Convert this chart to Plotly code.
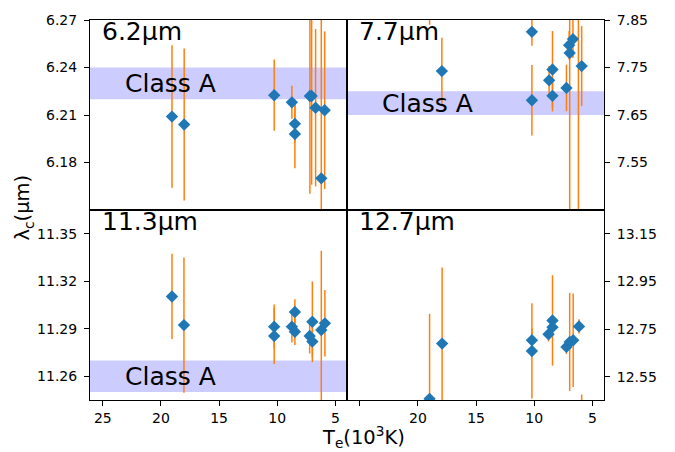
import plotly.graph_objects as go

# ---- data ----
t62 = [19.05, 18.0, 10.26, 8.74, 8.48, 8.48, 7.19, 7.04, 6.70, 6.21, 5.92]
v62 = [6.209, 6.204, 6.2225, 6.218, 6.2044, 6.198, 6.222, 6.222, 6.2146, 6.170, 6.213]
e62 = [0.045, 0.048, 0.0225, 0.0104, 0.012, 0.0217, 0.0617, 0.056, 0.0497, 0.11, 0.0498]

t77 = [19.0, 17.94, 10.2, 10.2, 8.72, 8.43, 8.43, 7.23, 7.0, 6.95, 6.67, 6.2, 5.92]
v77 = [7.95, 7.7425, 7.825, 7.681, 7.723, 7.7458, 7.6904, 7.707, 7.797, 7.7806, 7.8098, 7.40, 7.753]
e77 = [0.11, 0.07, 0.029, 0.074, 0.03, 0.081, 0.033, 0.049, 0.03, 0.36, 0.04, 0.5, 0.084]

t113 = [19.05, 18.02, 10.26, 10.26, 8.74, 8.48, 8.48, 7.21, 6.98, 6.98, 6.21, 5.90]
v113 = [11.3104, 11.2923, 11.2913, 11.2854, 11.2913, 11.3006, 11.2881, 11.2854, 11.2944, 11.2819, 11.2892, 11.2934]
e113 = [0.0269, 0.0427, 0.014, 0.0176, 0.01, 0.008, 0.0083, 0.011, 0.0255, 0.01, 0.05, 0.021]

t127 = [19.0, 17.92, 10.2, 10.2, 8.77, 8.43, 8.43, 7.23, 6.95, 6.65, 6.15, 5.92]
v127 = [12.457, 12.689, 12.703, 12.658, 12.728, 12.786, 12.758, 12.675, 12.696, 12.703, 12.761, 12.30]
e127 = [0.357, 0.319, 0.05, 0.2, 0.03, 0.19, 0.03, 0.03, 0.206, 0.196, 0.03, 0.175]

panel_names = ["6.2µm", "7.7µm", "11.3µm", "12.7µm"]
yticks62 = [6.18, 6.21, 6.24, 6.27]
yticks77 = [7.55, 7.65, 7.75, 7.85]
yticks113 = [11.26, 11.29, 11.32, 11.35]
yticks127 = [12.55, 12.75, 12.95, 13.15]
xticks = [25, 20, 15, 10, 5]

band62 = [6.22, 6.24]
band77 = [7.65, 7.70]
band113 = [11.25, 11.27]
band_label = "Class A"

# ---- figure ----
W, H = 675, 452
ML, MR, MT, MB = 90, 71, 17, 52
PW, PH = W - ML - MR, H - MT - MB

def px(xp):
    return (xp - ML) / PW

def py(yp):
    return (H - MB - yp) / PH

FONT = "DejaVu Sans"
BLUE = "#1f77b4"
ORANGE = "#ff7f0e"

fig = go.Figure()

panels = [
    (t62, v62, e62, "x", "y"),
    (t77, v77, e77, "x2", "y2"),
    (t113, v113, e113, "x3", "y3"),
    (t127, v127, e127, "x4", "y4"),
]
for t, v, e, xa, ya in panels:
    fig.add_trace(go.Scatter(
        x=t, y=v, mode="markers", xaxis=xa, yaxis=ya,
        marker=dict(symbol="diamond", size=9.5, color=BLUE, line=dict(width=0)),
        error_y=dict(type="data", array=e, visible=True, color=ORANGE,
                     thickness=1.5, width=0),
        showlegend=False, hoverinfo="skip",
    ))

xr = [26.1, 4.0]
common_x = dict(range=xr, showline=True, linecolor="black", linewidth=1,
                mirror=True, showgrid=False, zeroline=False,
                tickfont=dict(family=FONT, size=14, color="black"))
common_y = dict(showline=True, linecolor="black", linewidth=1, mirror=True,
                showgrid=False, zeroline=False, ticks="outside", ticklen=5,
                tickwidth=1, tickcolor="black", ticklabelstandoff=4,
                tickfont=dict(family=FONT, size=14, color="black"))

def fmt(vals):
    return ["%.2f" % v for v in vals]

fig.update_layout(
    width=W, height=H,
    margin=dict(l=ML, r=MR, t=MT, b=MB, pad=0),
    plot_bgcolor="white", paper_bgcolor="white",
    font=dict(family=FONT, color="black"),
    xaxis=dict(domain=[0, 0.5], anchor="y", showticklabels=False, ticks="", **common_x),
    xaxis2=dict(domain=[0.5, 1], anchor="y2", showticklabels=False, ticks="", **common_x),
    xaxis3=dict(domain=[0, 0.5], anchor="y3", ticks="outside", ticklen=5, tickwidth=1,
                tickcolor="black", tickvals=xticks, ticktext=[str(v) for v in xticks],
                **common_x),
    xaxis4=dict(domain=[0.5, 1], anchor="y4", ticks="outside", ticklen=5, tickwidth=1,
                tickcolor="black", tickvals=xticks,
                ticktext=[""] + [str(v) for v in xticks[1:]], **common_x),
    yaxis=dict(domain=[0.5, 1], anchor="x", range=[6.15, 6.27], side="left",
               tickvals=yticks62, ticktext=fmt(yticks62), **common_y),
    yaxis2=dict(domain=[0.5, 1], anchor="x2", range=[7.45, 7.85], side="right",
                tickvals=yticks77, ticktext=fmt(yticks77), **common_y),
    yaxis3=dict(domain=[0, 0.5], anchor="x3", range=[11.245, 11.365], side="left",
                tickvals=yticks113, ticktext=fmt(yticks113), **common_y),
    yaxis4=dict(domain=[0, 0.5], anchor="x4", range=[12.452, 13.25], side="right",
                tickvals=yticks127, ticktext=fmt(yticks127), **common_y),
)

band_fill = "rgba(0,0,255,0.2)"
for band, xa, ya in [(band62, "x", "y"), (band77, "x2", "y2"), (band113, "x3", "y3")]:
    fig.add_shape(type="rect", xref=xa + " domain", yref=ya, x0=0, x1=1,
                  y0=band[0], y1=band[1], fillcolor=band_fill,
                  line=dict(width=0), layer="below")
    fig.add_annotation(x=23, y=(band[0] + band[1]) / 2, xref=xa, yref=ya,
                       text=band_label, showarrow=False, xanchor="left",
                       yanchor="middle", xshift=-3,
                       font=dict(family=FONT, size=25, color="black"))

# panel titles
for name, xa, ya in zip(panel_names, ["x", "x2", "x3", "x4"], ["y", "y2", "y3", "y4"]):
    fig.add_annotation(x=0.038, y=1.0, xref=xa + " domain", yref=ya + " domain",
                       text=name, showarrow=False, xanchor="left", yanchor="top",
                       yshift=5,
                       font=dict(family=FONT, size=25, color="black"))

# axis titles
fig.add_annotation(x=px(363), y=py(437), xref="paper", yref="paper",
                   text="T<sub>e</sub>(10<sup>3</sup>K)", showarrow=False,
                   xanchor="center", yanchor="middle",
                   font=dict(family=FONT, size=19.5, color="black"))
fig.add_annotation(x=px(24), y=py(206), xref="paper", yref="paper",
                   text="λ<sub>c</sub>(µm)", showarrow=False, textangle=-90,
                   xanchor="center", yanchor="middle",
                   font=dict(family=FONT, size=19.5, color="black"))

fig.write_html("out.html", config={"displayModeBar": False},
               post_script="document.body.style.margin='0';document.body.style.overflow='hidden';")
